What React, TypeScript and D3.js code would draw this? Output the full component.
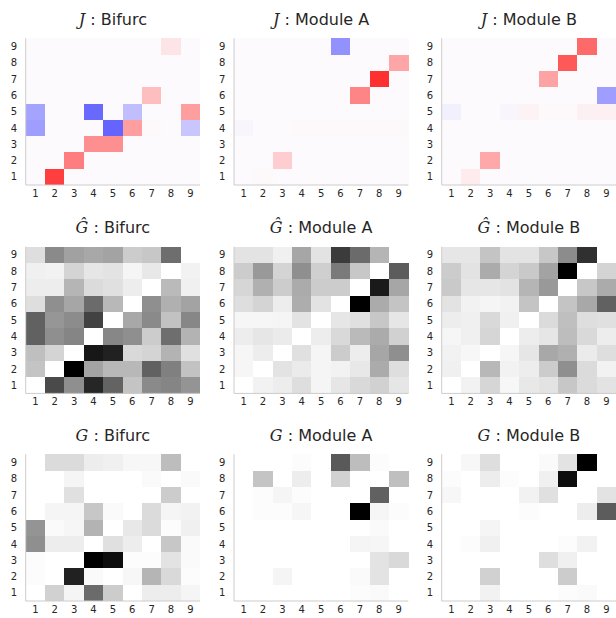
import React from "react";
import * as d3 from "d3";

// Rows are listed from y = 9 (top) down to y = 1 (bottom); columns x = 1..9.
const ticks = [1, 2, 3, 4, 5, 6, 7, 8, 9];
const moduleNames = ["Bifurc", "Module A", "Module B"];
const matrixSymbols = ["J", "Ĝ", "G"];

const jBifurc = [
  [0, 0, 0, 0, 0, 0, 0, 0.09, 0],
  [0, 0, 0, 0, 0, 0, 0, 0, 0],
  [0, 0, 0, 0, 0, 0, 0, 0, 0],
  [0, 0, 0, 0, 0, 0, 0.24, 0, 0],
  [-0.35, 0, 0, -0.58, 0, -0.24, 0, 0, 0.37],
  [-0.37, 0, 0, 0, -0.6, 0.37, 0.01, 0, -0.21],
  [0, 0, 0, 0.43, 0.43, 0, 0, 0, 0],
  [0, 0, 0.5, 0, 0, 0, 0, 0, 0],
  [0, 0.75, 0, 0, 0, 0, 0, 0, 0],
];
const jModuleA = [
  [0, 0, 0, 0, 0, -0.42, 0, 0, 0],
  [0, 0, 0, 0, 0, 0, 0, 0, 0.34],
  [0, 0, 0, 0, 0, 0, 0, 0.81, 0],
  [0, 0, 0, 0, 0, 0, 0.47, 0, 0],
  [0, 0, 0, 0, 0, 0, 0, 0, 0],
  [-0.02, 0, 0, 0.01, 0.01, 0.01, 0.01, 0.01, 0.01],
  [0, 0, 0, 0, 0, 0, 0, 0, 0],
  [0, 0, 0.18, 0, 0, 0, 0, 0, 0],
  [0, 0.01, 0, 0, 0, 0, 0, 0, 0],
];
const jModuleB = [
  [0, 0, 0, 0, 0, 0, 0, 0.58, 0],
  [0, 0, 0, 0, 0, 0, 0.65, 0, 0],
  [0, 0, 0, 0, 0, 0.35, 0, 0, 0],
  [0, 0, 0, 0, 0, 0, 0, 0, -0.37],
  [-0.04, 0, 0, -0.02, 0.03, 0.01, 0.01, 0.04, 0.04],
  [0, 0, 0, 0, 0, 0, 0, 0, 0],
  [0, 0, 0, 0, 0, 0, 0, 0, 0],
  [0, 0, 0.33, 0, 0, 0, 0, 0, 0],
  [0, 0.06, 0, 0, 0, 0, 0, 0, 0],
];

const gHatBifurc = [
  [0.13, 0.46, 0.37, 0.34, 0.36, 0.2, 0.22, 0.57, 0],
  [0.06, 0.05, 0.17, 0.1, 0.11, 0.04, 0.09, 0, 0.05],
  [0.07, 0.07, 0.29, 0.14, 0.12, 0.07, 0, 0.27, 0.06],
  [0.13, 0.44, 0.35, 0.58, 0.28, 0, 0.44, 0.31, 0.36],
  [0.62, 0.41, 0.45, 0.74, 0, 0.34, 0.46, 0.24, 0.47],
  [0.62, 0.44, 0.48, 0, 0.47, 0.44, 0.2, 0.57, 0.3],
  [0.25, 0.17, 0, 0.91, 0.87, 0.15, 0.17, 0.3, 0.12],
  [0.23, 0, 1.0, 0.36, 0.28, 0.28, 0.62, 0.5, 0.24],
  [0, 0.71, 0.44, 0.85, 0.61, 0.23, 0.46, 0.48, 0.42],
];
const gHatModuleA = [
  [0.11, 0.11, 0.06, 0.35, 0.11, 0.77, 0.58, 0.29, 0],
  [0.2, 0.4, 0.17, 0.44, 0.19, 0.52, 0.22, 0, 0.64],
  [0.16, 0.31, 0.2, 0.33, 0.2, 0.2, 0, 0.9, 0.35],
  [0.13, 0.17, 0.07, 0.32, 0.11, 0, 1.0, 0.33, 0.23],
  [0.035, 0.035, 0.04, 0.11, 0, 0.1, 0.12, 0.22, 0.1],
  [0.07, 0.1, 0.08, 0, 0.07, 0.15, 0.27, 0.33, 0.18],
  [0.035, 0.07, 0, 0.12, 0.04, 0.2, 0.07, 0.35, 0.44],
  [0.035, 0, 0.11, 0.08, 0.04, 0.05, 0.09, 0.33, 0.13],
  [0, 0.05, 0.07, 0.13, 0.04, 0.1, 0.15, 0.18, 0.1],
];
const gHatModuleB = [
  [0.1, 0.1, 0.23, 0.11, 0.11, 0.22, 0.45, 0.81, 0],
  [0.2, 0.11, 0.33, 0.17, 0.21, 0.36, 1.0, 0, 0.17],
  [0.21, 0.1, 0.1, 0.11, 0.29, 0.4, 0, 0.22, 0.33],
  [0.11, 0.05, 0.04, 0.05, 0.23, 0, 0.23, 0.34, 0.62],
  [0.07, 0.06, 0.15, 0.06, 0, 0.14, 0.25, 0.13, 0.12],
  [0.035, 0.06, 0.16, 0, 0.07, 0.1, 0.26, 0.15, 0.07],
  [0.05, 0.03, 0, 0.035, 0.1, 0.34, 0.31, 0.08, 0.13],
  [0.06, 0, 0.28, 0.05, 0.07, 0.2, 0.44, 0.14, 0.05],
  [0, 0.05, 0.16, 0.03, 0.09, 0.11, 0.22, 0.14, 0.11],
];

const gBifurc = [
  [0, 0.14, 0.14, 0.07, 0.06, 0.03, 0.03, 0.26, 0],
  [0, 0, 0.04, 0, 0, 0, 0.02, 0, 0.02],
  [0, 0, 0.12, 0, 0, 0, 0, 0.2, 0],
  [0, 0.04, 0.04, 0.22, 0.02, 0, 0.14, 0.04, 0.05],
  [0.42, 0.02, 0.035, 0.3, 0, 0.09, 0.14, 0.01, 0.06],
  [0.44, 0.07, 0.07, 0, 0.12, 0.07, 0, 0.22, 0.02],
  [0.01, 0, 0, 1.0, 0.95, 0.01, 0.01, 0.11, 0.02],
  [0.01, 0, 0.87, 0.02, 0, 0.03, 0.29, 0.15, 0.01],
  [0, 0.18, 0.04, 0.58, 0.2, 0, 0.07, 0.07, 0.04],
];
const gModuleA = [
  [0, 0, 0, 0.01, 0, 0.65, 0.26, 0.01, 0],
  [0, 0.23, 0, 0.07, 0, 0.18, 0, 0, 0.25],
  [0, 0.01, 0.04, 0.01, 0, 0, 0, 0.62, 0],
  [0, 0.01, 0.01, 0.035, 0, 0, 1.0, 0.035, 0.01],
  [0, 0, 0, 0, 0, 0, 0, 0.02, 0],
  [0, 0, 0, 0, 0, 0, 0.04, 0.035, 0],
  [0, 0, 0, 0, 0, 0, 0, 0.11, 0.15],
  [0, 0, 0.04, 0, 0, 0, 0.02, 0.11, 0],
  [0, 0, 0, 0, 0, 0, 0.01, 0.02, 0],
];
const gModuleB = [
  [0, 0.03, 0.13, 0, 0, 0.02, 0.11, 1.0, 0],
  [0.01, 0, 0.07, 0.01, 0, 0.06, 0.95, 0, 0],
  [0.03, 0, 0, 0, 0.05, 0.12, 0, 0, 0.11],
  [0, 0, 0, 0, 0.01, 0, 0, 0.07, 0.64],
  [0, 0, 0.04, 0, 0, 0, 0, 0, 0],
  [0, 0.01, 0.06, 0, 0, 0, 0.01, 0.05, 0],
  [0, 0, 0, 0, 0, 0.13, 0.06, 0, 0],
  [0, 0, 0.18, 0, 0, 0, 0.2, 0, 0],
  [0, 0, 0.05, 0, 0, 0, 0.01, 0.02, 0],
];

const panelData = [
  [jBifurc, jModuleA, jModuleB],
  [gHatBifurc, gHatModuleA, gHatModuleB],
  [gBifurc, gModuleA, gModuleB],
];

const W = 616;
const H = 618;
const colX = [25.7, 234, 441.7];
const rowY = [38.3, 246.7, 454.3];
const PW = 174.3;
const PH = 146.7;
const TEXT = "#262626";

const jColor = d3
  .scaleLinear<string>()
  .domain([-1, 0, 1])
  .range(["#0000ff", "#fdfafd", "#ff0000"])
  .clamp(true);
const grayColor = d3
  .scaleLinear<string>()
  .domain([0, 1])
  .range(["#ffffff", "#000000"])
  .clamp(true);

function Panel({ x0, y0, data, color, symbol, name }) {
  const xs = d3.scaleBand<number>().domain(ticks).range([x0, x0 + PW]);
  const ys = d3
    .scaleBand<number>()
    .domain([...ticks].reverse())
    .range([y0, y0 + PH]);
  const cells: any[] = [];
  data.forEach((row: number[], ri: number) => {
    const yv = ticks[ticks.length - 1 - ri];
    row.forEach((v: number, ci: number) => {
      const xv = ticks[ci];
      cells.push(
        <rect
          key={`${ri}-${ci}`}
          x={xs(xv)}
          y={ys(yv)}
          width={xs.bandwidth() + 0.3}
          height={ys.bandwidth() + 0.3}
          fill={color(v)}
        />
      );
    });
  });
  return (
    <g>
      <text
        x={x0 + PW / 2}
        y={y0 - 13.4}
        textAnchor="middle"
        fontSize={16}
        fill={TEXT}
        fontFamily="DejaVu Sans"
      >
        <tspan fontFamily="DejaVu Serif" fontStyle="italic">
          {symbol}
        </tspan>
        <tspan> : {name}</tspan>
      </text>
      <g shapeRendering="crispEdges">{cells}</g>
      <line x1={x0} x2={x0} y1={y0} y2={y0 + PH} stroke="#cccccc" strokeWidth={1} />
      <line x1={x0} x2={x0 + PW} y1={y0 + PH} y2={y0 + PH} stroke="#cccccc" strokeWidth={1} />
      {ticks.map((t) => (
        <text
          key={"x" + t}
          x={(xs(t) as number) + xs.bandwidth() / 2}
          y={y0 + PH + 11.7}
          textAnchor="middle"
          fontSize={10}
          fill={TEXT}
          fontFamily="DejaVu Sans"
        >
          {t}
        </text>
      ))}
      {ticks.map((t) => (
        <text
          key={"y" + t}
          x={x0 - 8.7}
          y={(ys(t) as number) + ys.bandwidth() / 2}
          dy="0.36em"
          textAnchor="end"
          fontSize={10}
          fill={TEXT}
          fontFamily="DejaVu Sans"
        >
          {t}
        </text>
      ))}
    </g>
  );
}

export default function App() {
  return (
    <svg
      width={W}
      height={H}
      viewBox={`0 0 ${W} ${H}`}
      style={{ position: "absolute", left: 0, top: 0, background: "#ffffff" }}
    >
      <rect x={0} y={0} width={W} height={H} fill="#ffffff" />
      {panelData.map((row, r) =>
        row.map((data, c) => (
          <Panel
            key={`${r}-${c}`}
            x0={colX[c]}
            y0={rowY[r]}
            data={data}
            color={r === 0 ? jColor : grayColor}
            symbol={matrixSymbols[r]}
            name={moduleNames[c]}
          />
        ))
      )}
    </svg>
  );
}
